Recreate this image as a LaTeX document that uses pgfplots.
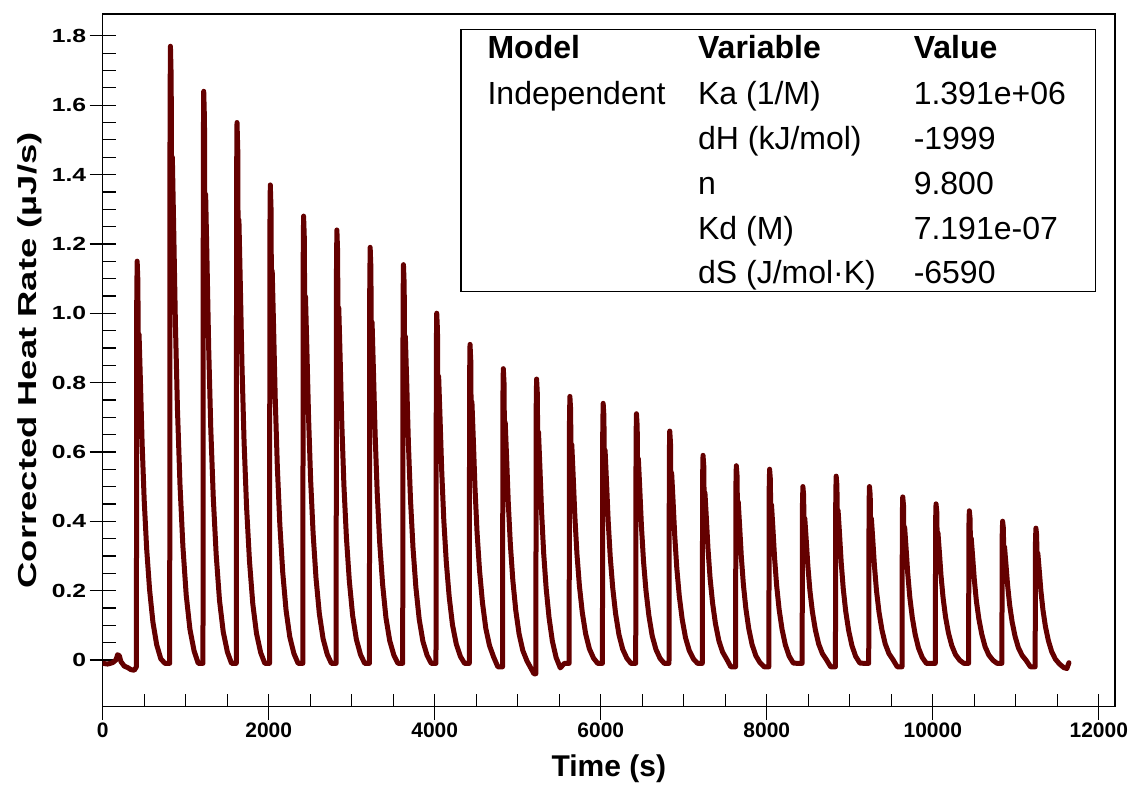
\documentclass[border=0pt]{standalone}
\usepackage{pgfplots}
\pgfplotsset{compat=1.18}
\usepackage{graphicx}
\usepackage{fontspec}
\setmainfont{Liberation Sans}
\definecolor{trace}{RGB}{100,0,0}
\newcommand\yl[1]{\scalebox{1.3}[1]{#1}}
\pgfplotsset{
  itcframe/.style={
    scale only axis, width=1012.3bp, height=692.7bp,
    at={(0,0)}, anchor=south west,
    xmin=0, xmax=12195, ymin=-0.135, ymax=1.863,
    xtick={0,2000,...,12000},
    ytick={0,0.2,0.4,0.6,0.8,1.0,1.2,1.4,1.6,1.8},
    scaled x ticks=false, scaled y ticks=false,
    xtick pos=left, ytick pos=left,
    every tick/.append style={black, line width=1.3bp},
  }
}
\begin{document}
\begin{tikzpicture}
\useasboundingbox (-102.7bp,-79.3bp) rectangle (1028.3bp,706.7bp);
% main axis: frame, trace, inner ticks
\begin{axis}[itcframe,
  axis line style={line width=1.3bp},
  tick align=inside,
  major tick length=13bp, minor tick length=13bp,
  minor x tick num=3, minor y tick num=3,
  xticklabels={}, yticklabels={},
  xlabel={\fontsize{30bp}{34bp}\selectfont\bfseries Time (s)},
  xlabel style={at={(axis description cs:0.5,0)}, anchor=base, yshift=-70bp, inner sep=0pt},
  ylabel={\fontsize{26bp}{30bp}\selectfont\bfseries\scalebox{1.4}[1]{Corrected Heat Rate (µJ/s)}},
  ylabel style={at={(axis description cs:-0.0718,0.5)}, anchor=center, rotate=0},
]
\addplot[trace, line width=5bp, line join=round, line cap=round] coordinates {
(0,-0.010) (60,-0.012) (120,-0.008) (160,0.000) (180,0.015) (200,0.012) (220,-0.005) (260,-0.018) (300,-0.022) (340,-0.028) (380,-0.030) (406,-0.020)
(410,1.033) (415,1.150) (424,1.092) (430,0.822) (438,0.939) (455,0.799) (475,0.624) (500,0.460) (530,0.319) (565,0.202) (605,0.109) (650,0.044) (700,0.003) (750,-0.010)
(807,-0.010) (811,1.592) (816,1.770) (825,1.681) (831,1.272) (839,1.450) (856,1.236) (876,0.969) (901,0.720) (931,0.506) (966,0.328) (1006,0.187) (1051,0.088) (1101,0.026) (1151,-0.010)
(1208,-0.010) (1212,1.475) (1217,1.640) (1226,1.558) (1232,1.178) (1240,1.343) (1257,1.145) (1277,0.898) (1302,0.667) (1332,0.469) (1367,0.304) (1407,0.172) (1452,0.081) (1502,0.023) (1552,-0.010)
(1609,-0.010) (1613,1.394) (1618,1.550) (1627,1.472) (1633,1.113) (1641,1.269) (1658,1.082) (1678,0.848) (1703,0.630) (1733,0.442) (1768,0.286) (1808,0.162) (1853,0.076) (1903,0.021) (1953,-0.010)
(2010,-0.010) (2014,1.232) (2019,1.370) (2028,1.301) (2034,0.984) (2042,1.122) (2059,0.956) (2079,0.749) (2104,0.556) (2134,0.390) (2169,0.252) (2209,0.143) (2254,0.066) (2304,0.018) (2354,-0.010)
(2411,-0.010) (2415,1.151) (2420,1.280) (2429,1.216) (2435,0.919) (2443,1.048) (2460,0.893) (2480,0.700) (2505,0.519) (2535,0.364) (2570,0.235) (2610,0.133) (2655,0.061) (2705,0.016) (2755,-0.010)
(2812,-0.010) (2816,1.115) (2821,1.240) (2830,1.178) (2836,0.890) (2844,1.015) (2861,0.865) (2881,0.678) (2906,0.503) (2936,0.353) (2971,0.228) (3011,0.128) (3056,0.059) (3106,0.015) (3156,-0.010)
(3213,-0.010) (3217,1.070) (3222,1.190) (3231,1.130) (3237,0.854) (3245,0.974) (3262,0.830) (3282,0.650) (3307,0.482) (3337,0.338) (3372,0.218) (3412,0.122) (3457,0.056) (3507,0.014) (3557,-0.010)
(3614,-0.010) (3618,1.025) (3623,1.140) (3632,1.083) (3638,0.818) (3646,0.933) (3663,0.795) (3683,0.623) (3708,0.462) (3738,0.324) (3773,0.209) (3813,0.117) (3858,0.053) (3908,0.013) (3958,-0.010)
(4015,-0.010) (4019,0.899) (4024,1.000) (4033,0.950) (4039,0.717) (4047,0.818) (4064,0.697) (4084,0.546) (4109,0.404) (4139,0.283) (4174,0.182) (4214,0.101) (4259,0.046) (4309,0.010) (4359,-0.010)
(4416,-0.010) (4420,0.818) (4425,0.910) (4434,0.864) (4440,0.652) (4448,0.744) (4465,0.634) (4485,0.496) (4510,0.367) (4540,0.257) (4575,0.165) (4615,0.091) (4660,0.041) (4710,0.008) (4760,-0.020)
(4817,-0.020) (4821,0.754) (4826,0.840) (4835,0.797) (4841,0.599) (4849,0.685) (4866,0.582) (4886,0.453) (4911,0.333) (4941,0.229) (4976,0.143) (5016,0.075) (5061,0.027) (5111,-0.003) (5161,-0.025) (5195,-0.040)
(5218,-0.040) (5222,0.725) (5227,0.810) (5236,0.768) (5242,0.572) (5250,0.657) (5267,0.555) (5287,0.428) (5312,0.309) (5342,0.207) (5377,0.122) (5417,0.054) (5462,0.007) (5512,-0.023) (5562,-0.010)
(5619,-0.010) (5623,0.683) (5628,0.760) (5637,0.722) (5643,0.544) (5651,0.621) (5668,0.529) (5688,0.414) (5713,0.306) (5743,0.213) (5778,0.136) (5818,0.075) (5863,0.032) (5913,0.005) (5963,-0.010)
(6020,-0.010) (6024,0.665) (6029,0.740) (6038,0.703) (6044,0.530) (6052,0.605) (6069,0.515) (6089,0.403) (6114,0.298) (6144,0.208) (6179,0.133) (6219,0.073) (6264,0.031) (6314,0.005) (6364,-0.010)
(6421,-0.010) (6425,0.638) (6430,0.710) (6439,0.674) (6445,0.508) (6453,0.580) (6470,0.494) (6490,0.386) (6515,0.285) (6545,0.199) (6580,0.127) (6620,0.069) (6665,0.030) (6715,0.004) (6765,-0.010)
(6822,-0.010) (6826,0.593) (6831,0.660) (6840,0.627) (6846,0.472) (6854,0.539) (6871,0.459) (6891,0.359) (6916,0.265) (6946,0.184) (6981,0.117) (7021,0.064) (7066,0.027) (7116,0.003) (7166,-0.010)
(7223,-0.010) (7227,0.530) (7232,0.590) (7241,0.560) (7247,0.422) (7255,0.482) (7272,0.410) (7292,0.320) (7317,0.236) (7347,0.164) (7382,0.104) (7422,0.056) (7467,0.023) (7517,0.002) (7567,-0.020)
(7624,-0.020) (7628,0.502) (7633,0.560) (7642,0.531) (7648,0.398) (7656,0.456) (7673,0.386) (7693,0.299) (7718,0.218) (7748,0.148) (7783,0.090) (7823,0.044) (7868,0.012) (7918,-0.008) (7968,-0.020)
(8025,-0.020) (8029,0.493) (8034,0.550) (8043,0.522) (8049,0.390) (8057,0.447) (8074,0.379) (8094,0.294) (8119,0.214) (8149,0.145) (8184,0.088) (8224,0.043) (8269,0.011) (8319,-0.009) (8369,-0.010)
(8426,-0.010) (8430,0.449) (8435,0.500) (8444,0.475) (8450,0.357) (8458,0.408) (8475,0.347) (8495,0.271) (8520,0.199) (8550,0.138) (8585,0.087) (8625,0.046) (8670,0.018) (8720,0.000) (8770,-0.020)
(8827,-0.020) (8831,0.475) (8836,0.530) (8845,0.503) (8851,0.376) (8859,0.431) (8876,0.365) (8896,0.283) (8921,0.206) (8951,0.140) (8986,0.085) (9026,0.041) (9071,0.010) (9121,-0.009) (9171,-0.010)
(9228,-0.010) (9232,0.449) (9237,0.500) (9246,0.475) (9252,0.357) (9260,0.408) (9277,0.347) (9297,0.271) (9322,0.199) (9352,0.138) (9387,0.087) (9427,0.046) (9472,0.018) (9522,0.000) (9572,-0.020)
(9629,-0.020) (9633,0.421) (9638,0.470) (9647,0.446) (9653,0.333) (9661,0.382) (9678,0.323) (9698,0.250) (9723,0.181) (9753,0.122) (9788,0.073) (9828,0.034) (9873,0.007) (9923,-0.010) (9973,-0.010)
(10030,-0.010) (10034,0.404) (10039,0.450) (10048,0.427) (10054,0.321) (10062,0.367) (10079,0.312) (10099,0.243) (10124,0.179) (10154,0.123) (10189,0.077) (10229,0.041) (10274,0.015) (10324,-0.001) (10374,-0.010)
(10431,-0.010) (10435,0.386) (10440,0.430) (10449,0.408) (10455,0.307) (10463,0.351) (10480,0.298) (10500,0.232) (10525,0.170) (10555,0.118) (10590,0.074) (10630,0.038) (10675,0.014) (10725,-0.001) (10775,-0.010)
(10832,-0.010) (10836,0.359) (10841,0.400) (10850,0.380) (10856,0.285) (10864,0.326) (10881,0.277) (10901,0.216) (10926,0.158) (10956,0.109) (10991,0.068) (11031,0.035) (11076,0.013) (11126,-0.002) (11176,-0.020)
(11233,-0.020) (11237,0.340) (11242,0.380) (11251,0.360) (11257,0.268) (11265,0.308) (11282,0.260) (11302,0.200) (11327,0.144) (11357,0.096) (11392,0.056) (11432,0.024) (11477,0.002) (11527,-0.012) (11577,-0.022) (11615,-0.025) (11640,-0.008)
};
% fit results box
\draw[line width=1.3bp] (axis description cs:0.354,0.599) rectangle (axis description cs:0.981,0.978);
\begin{scope}[every node/.style={anchor=base west, inner sep=0pt, font=\fontsize{32bp}{36bp}\selectfont}]
\node[font=\fontsize{32bp}{36bp}\selectfont\bfseries] at (axis description cs:0.380,0.9358) {Model};
\node[font=\fontsize{32bp}{36bp}\selectfont\bfseries] at (axis description cs:0.588,0.9358) {Variable};
\node[font=\fontsize{32bp}{36bp}\selectfont\bfseries] at (axis description cs:0.801,0.9358) {Value};
\node at (axis description cs:0.380,0.8693) {Independent};
\node at (axis description cs:0.588,0.8693) {Ka (1/M)};
\node at (axis description cs:0.801,0.8693) {1.391e+06};
\node at (axis description cs:0.588,0.8044) {dH (kJ/mol)};
\node at (axis description cs:0.801,0.8044) {-1999};
\node at (axis description cs:0.588,0.7394) {n};
\node at (axis description cs:0.801,0.7394) {9.800};
\node at (axis description cs:0.588,0.6745) {Kd (M)};
\node at (axis description cs:0.801,0.6745) {7.191e-07};
\node at (axis description cs:0.588,0.6109) {dS (J/mol·K)};
\node at (axis description cs:0.801,0.6109) {-6590};
\end{scope}
\end{axis}
% second axis: outer halves of major ticks and the tick labels
\begin{axis}[itcframe,
  axis x line*=bottom, axis y line*=left,
  axis line style={draw=none},
  tick align=outside, major tick length=13bp,
  minor x tick num=0, minor y tick num=0,
  xticklabels={0,2000,4000,6000,8000,10000,12000},
  yticklabels={{\yl{0}},{\yl{0.2}},{\yl{0.4}},{\yl{0.6}},{\yl{0.8}},{\yl{1.0}},{\yl{1.2}},{\yl{1.4}},{\yl{1.6}},{\yl{1.8}}},
  xticklabel style={font=\fontsize{21bp}{24bp}\selectfont\bfseries},
  yticklabel style={font=\fontsize{19bp}{22bp}\selectfont\bfseries},
]
\end{axis}
\end{tikzpicture}
\end{document}
